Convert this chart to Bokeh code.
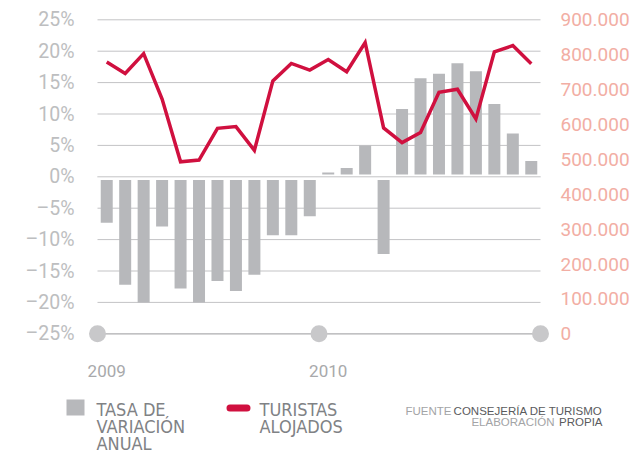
from bokeh.plotting import figure
from bokeh.models import Range1d, LinearAxis, FixedTicker, Label, BoxAnnotation
from bokeh.embed import file_html
from bokeh.resources import INLINE

# ---------------- data ----------------
years = ["2009", "2010"]
months_per_year = 12
tasa = [-7.3, -17.2, -20.0, -7.9, -17.8, -20.0, -16.6, -18.2, -15.6, -9.3, -9.3, -6.3,
        0.7, 1.4, 5.0, -12.3, 10.8, 15.7, 16.4, 18.1, 16.8, 11.6, 6.9, 2.5]
turistas = [779000, 746000, 803000, 673000, 493000, 498000, 589000, 594000, 526000, 725000, 775000, 756000,
            786000, 751000, 835000, 590000, 548000, 577000, 692000, 701000, 616000, 808000, 826000, 774000]
pct_ticks = [25, 20, 15, 10, 5, 0, -5, -10, -15, -20, -25]
pct_labels = ["25%", "20%", "15%", "10%", "5%", "0%", "–5%", "–10%", "–15%", "–20%", "–25%"]
tur_ticks = [900000, 800000, 700000, 600000, 500000, 400000, 300000, 200000, 100000, 0]
tur_labels = ["900.000", "800.000", "700.000", "600.000", "500.000", "400.000", "300.000", "200.000", "100.000", "0"]
legend_bar = ["TASA DE", "VARIACIÓN", "ANUAL"]
legend_line = ["TURISTAS", "ALOJADOS"]
source_lines = [("FUENTE", "CONSEJERÍA DE TURISMO"), ("ELABORACIÓN", "PROPIA")]

# ---------------- styles / layout ----------------
RED = "#d0103f"
BAR = "#b7b8bb"
GRID = "#c3c3c5"
FONT = "Roboto"
LEGFONT = "DejaVu Sans Condensed"
SRCFONT = "Liberation Sans"

W, H = 631, 453
X0PX, XENDPX = 97, 540          # pixel position of first / last month boundary
YTOPPX, YBOTPX = 19.3, 333.3    # pixel position of top / bottom percentage tick

n = len(tasa)
xs = [i + 0.5 for i in range(n)]
pmin, pmax = min(pct_ticks), max(pct_ticks)
tmin, tmax = min(tur_ticks), max(tur_ticks)

PXU = (XENDPX - X0PX) / n
PYU = (YBOTPX - YTOPPX) / (pmax - pmin)
def dx(px):
    return (px - X0PX) / PXU
def dy(py):
    return pmax - (py - YTOPPX) / PYU
def pct_to_tur(v):
    return tmin + (v - pmin) / (pmax - pmin) * (tmax - tmin)

YLO, YHI = dy(H), dy(0)

p = figure(width=W, height=H,
           x_range=Range1d(dx(0), dx(W)), y_range=Range1d(YLO, YHI),
           output_backend="svg", toolbar_location=None,
           min_border=0, min_border_left=0, min_border_right=0, min_border_top=0, min_border_bottom=0)
p.outline_line_color = None
p.xgrid.visible = False
p.ygrid.visible = False
p.background_fill_color = "white"
p.border_fill_color = "white"

p.extra_y_ranges = {"tur": Range1d(pct_to_tur(YLO), pct_to_tur(YHI))}

# left axis (percent)
ya = p.yaxis[0]
ya.ticker = FixedTicker(ticks=pct_ticks)
ya.major_label_overrides = {t: l for t, l in zip(pct_ticks, pct_labels)}
ya.fixed_location = dx(85)
# right axis (tourists)
ra = LinearAxis(y_range_name="tur", ticker=FixedTicker(ticks=tur_ticks),
                major_label_overrides={t: l for t, l in zip(tur_ticks, tur_labels)})
p.add_layout(ra, "right")
ra.fixed_location = dx(551)
# x axis (years)
xa = p.xaxis[0]
xa.ticker = FixedTicker(ticks=[i * months_per_year + 0.5 for i in range(len(years))])
xa.major_label_overrides = {i * months_per_year + 0.5: y for i, y in enumerate(years)}
xa.fixed_location = dy(350)

for ax, col, size, standoff in [(ya, "#bdbec0", "19.5px", 11), (ra, "#f2aea4", "19px", 9), (xa, "#a8a9ab", "17px", 14)]:
    ax.axis_line_color = None
    ax.major_tick_line_color = None
    ax.minor_tick_line_color = None
    ax.major_tick_in = 0
    ax.major_tick_out = 0
    ax.minor_tick_out = 0
    ax.major_label_text_color = col
    ax.major_label_text_font = FONT
    ax.major_label_text_font_size = size
    ax.major_label_standoff = standoff

# grid lines
grid_vals = [t for t in pct_ticks if t != pmin]
p.segment(x0=[0] * len(grid_vals), x1=[n] * len(grid_vals), y0=grid_vals, y1=grid_vals,
          line_color=GRID, line_width=1)

# bars
p.vbar(x=xs, top=tasa, bottom=0, width=0.65, fill_color=BAR, line_color=None)

# white gap around zero line and zero line
p.segment(x0=[0], x1=[n], y0=[-0.08], y1=[-0.08], line_color="white", line_width=5.5)
p.segment(x0=[0], x1=[n], y0=[0], y1=[0], line_color=GRID, line_width=1)

# baseline with year dots
p.segment(x0=[0], x1=[n], y0=[pmin], y1=[pmin], line_color="#adadaf", line_width=1.2)
dot_x = [i * months_per_year for i in range(len(years) + 1)]
p.scatter(x=dot_x, y=[pmin] * len(dot_x), size=17, fill_color="#c8c8ca", line_color=None)

# line
p.line(x=xs, y=turistas, y_range_name="tur", line_color=RED, line_width=3.5, line_join="miter")

# ---------------- legend / source ----------------
p.add_layout(BoxAnnotation(left=dx(66), right=dx(84), top=dy(399), bottom=dy(415),
                           fill_color=BAR, fill_alpha=1, line_color=None))
p.add_layout(BoxAnnotation(left=dx(226), right=dx(250), top=dy(404), bottom=dy(411),
                           fill_color=RED, fill_alpha=1, line_color=None, border_radius=4))

for txt, py in zip(legend_bar, [409, 426, 443]):
    p.add_layout(Label(x=dx(96), y=dy(py), text=txt, text_font=LEGFONT, text_font_size="18px",
                       text_color="#808285", text_baseline="alphabetic"))
for txt, py in zip(legend_line, [409, 426]):
    p.add_layout(Label(x=dx(259), y=dy(py), text=txt, text_font=LEGFONT, text_font_size="18px",
                       text_color="#808285", text_baseline="alphabetic"))

for (light, dark), py, lx in zip(source_lines, [410, 421], [451, 554]):
    p.add_layout(Label(x=dx(lx), y=dy(py), text=light, text_font=SRCFONT, text_font_size="11.5px",
                       text_color="#a3a4a6", text_align="right", text_baseline="alphabetic"))
    p.add_layout(Label(x=dx(602), y=dy(py), text=dark, text_font=SRCFONT, text_font_size="11.5px",
                       text_color="#5a5b5d", text_align="right", text_baseline="alphabetic"))

open("out.html", "w").write(file_html(p, INLINE))
